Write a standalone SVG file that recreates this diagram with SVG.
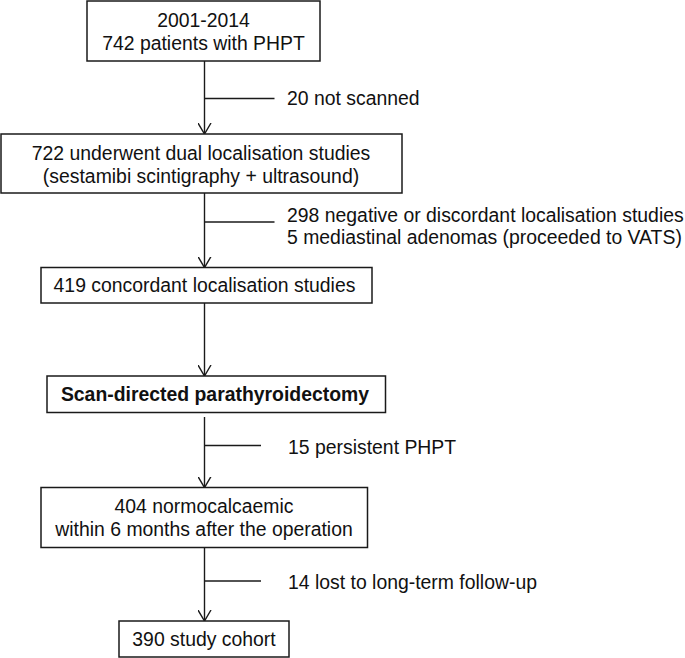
<svg xmlns="http://www.w3.org/2000/svg" width="685" height="658" viewBox="0 0 685 658">
<style>
.box{fill:#fff;stroke:#1a1a1a;stroke-width:1.5}
.t{font-family:"Liberation Sans",Arial,sans-serif;font-size:19.4px;fill:#111}
.c{text-anchor:middle}
.b{font-weight:bold}
.ln{stroke:#1a1a1a;stroke-width:1.4;fill:none}
</style>
<defs>
<marker id="ah" viewBox="0 0 12 14" refX="11" refY="7" markerWidth="12" markerHeight="14" markerUnits="userSpaceOnUse" orient="auto">
<path d="M0,0.5 L11,7 L0,13.5" fill="none" stroke="#1a1a1a" stroke-width="1.4"/>
</marker>
</defs>
<rect width="685" height="658" fill="#fff"/>
<g id="connectors">
<line class="ln" x1="204.5" y1="61" x2="204.5" y2="134" marker-end="url(#ah)"/>
<line class="ln" x1="204.5" y1="98.5" x2="274.5" y2="98.5"/>
<line class="ln" x1="204.5" y1="193" x2="204.5" y2="267.5" marker-end="url(#ah)"/>
<line class="ln" x1="204.5" y1="222" x2="274.5" y2="222"/>
<line class="ln" x1="204.5" y1="303" x2="204.5" y2="376" marker-end="url(#ah)"/>
<line class="ln" x1="204.5" y1="417" x2="204.5" y2="487.5" marker-end="url(#ah)"/>
<line class="ln" x1="204.5" y1="445.5" x2="261" y2="445.5"/>
<line class="ln" x1="204.5" y1="548" x2="204.5" y2="621" marker-end="url(#ah)"/>
<line class="ln" x1="204.5" y1="581" x2="261" y2="581"/>
</g>
<g id="n1">
<rect class="box" x="87" y="1" width="233" height="60"/>
<text class="t c" x="203.5" y="27">2001-2014</text>
<text class="t c" x="203.5" y="50">742 patients with PHPT</text>
</g>
<g id="e1"><text class="t" x="287" y="105">20 not scanned</text></g>
<g id="n2">
<rect class="box" x="1" y="134" width="401" height="59"/>
<text class="t c" x="201" y="160">722 underwent dual localisation studies</text>
<text class="t c" x="201" y="183">(sestamibi scintigraphy + ultrasound)</text>
</g>
<g id="e2">
<text class="t" x="287" y="222">298 negative or discordant localisation studies</text>
<text class="t" x="287" y="244">5 mediastinal adenomas (proceeded to VATS)</text>
</g>
<g id="n3">
<rect class="box" x="41" y="267.5" width="331" height="35.5"/>
<text class="t c" x="204.5" y="292">419 concordant localisation studies</text>
</g>
<g id="n4">
<rect class="box" x="47" y="376" width="338.5" height="36.5"/>
<text class="t c b" x="215" y="401">Scan-directed parathyroidectomy</text>
</g>
<g id="e3"><text class="t" x="288" y="454">15 persistent PHPT</text></g>
<g id="n5">
<rect class="box" x="41" y="487.5" width="326.5" height="60"/>
<text class="t c" x="204" y="513">404 normocalcaemic</text>
<text class="t c" x="204" y="535.5">within 6 months after the operation</text>
</g>
<g id="e4"><text class="t" x="288" y="589">14 lost to long-term follow-up</text></g>
<g id="n6">
<rect class="box" x="119" y="621" width="170" height="36"/>
<text class="t c" x="204" y="646">390 study cohort</text>
</g>
</svg>
